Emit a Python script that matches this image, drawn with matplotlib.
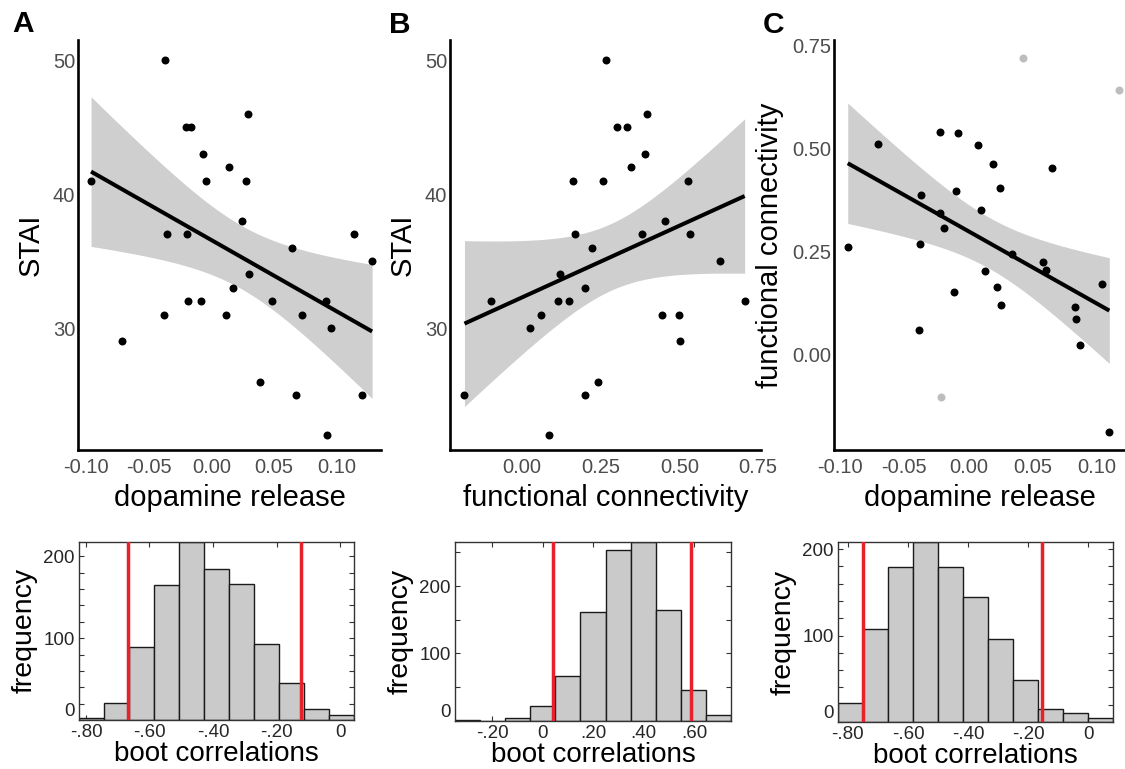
import numpy as np
import matplotlib
matplotlib.use("Agg")
import matplotlib.pyplot as plt
from matplotlib.ticker import FuncFormatter, FixedLocator

plt.rcParams['font.family'] = ['Liberation Sans', 'DejaVu Sans']

# ---------------- Panel A: dopamine release vs STAI ----------------
a_dopamine = [-0.096, -0.037, -0.0202, -0.0162, 0.0293, -0.0066, 0.0141, -0.0042,
              0.0277, 0.0245, -0.0354, -0.0194, 0.0644, 0.1139, 0.1283, 0.0301,
              0.0173, -0.0186, -0.0082, 0.0484, 0.0915, -0.0378, 0.0117, 0.0724,
              0.0955, -0.0713, 0.0389, 0.0676, 0.1203, 0.0923]
a_stai = [41, 50, 45, 45, 46, 43, 42, 41, 41, 38, 37, 37, 36, 37, 35, 34,
          33, 32, 32, 32, 32, 31, 31, 31, 30, 29, 26, 25, 25, 22]

# ---------------- Panel B: functional connectivity vs STAI ----------------
b_connectivity = [0.265, 0.397, 0.302, 0.334, 0.391, 0.345, 0.163, 0.258, 0.527,
                  0.454, 0.168, 0.380, 0.532, 0.223, 0.630, 0.120, 0.200, -0.098,
                  0.115, 0.150, 0.707, 0.059, 0.445, 0.499, 0.024, 0.502, 0.241,
                  -0.183, 0.201, 0.087]
b_stai = [50, 46, 45, 45, 43, 42, 41, 41, 41, 38, 37, 37, 37, 36, 35, 34, 33, 32,
          32, 32, 32, 31, 31, 31, 30, 29, 26, 25, 25, 22]

# ---------------- Panel C: dopamine release vs functional connectivity ----------------
c_dopamine = [-0.0707, -0.022, -0.008, 0.0075, 0.0192, 0.0651, 0.0242, -0.0096,
              -0.0368, 0.0096, -0.0191, -0.0222, -0.094, -0.038, 0.0335, 0.0576,
              0.0602, 0.1035, 0.0128, 0.0223, -0.0116, 0.0254, 0.0827, 0.0833,
              0.0864, -0.0386, 0.1094]
c_connectivity = [0.5105, 0.540, 0.5364, 0.5073, 0.4628, 0.4517, 0.4033, 0.3975,
                  0.3871, 0.3508, 0.3065, 0.3435, 0.262, 0.269, 0.2443, 0.2257,
                  0.2056, 0.171, 0.204, 0.1652, 0.1524, 0.1209, 0.1168, 0.0878,
                  0.0241, 0.0597, -0.1857]
c_outlier_dopamine = [0.0423, 0.1172, -0.0215]
c_outlier_connectivity = [0.7178, 0.6411, -0.101]

# ---------------- Bootstrap histograms ----------------
hist_a_counts = [3, 21, 89, 165, 218, 185, 166, 93, 45, 13, 6]
hist_a_range = (-0.822, 0.044)
hist_a_ci = (-0.667, -0.123)

hist_b_counts = [1, 0, 4, 22, 66, 162, 254, 266, 164, 45, 9]
hist_b_range = (-0.348, 0.747)
hist_b_ci = (0.04, 0.587)

hist_c_counts = [22, 108, 179, 208, 179, 145, 96, 49, 15, 10, 5]
hist_c_range = (-0.834, 0.084)
hist_c_ci = (-0.749, -0.154)

T95 = {25: 2.0595, 28: 2.0484}

W, H = 1125, 769
fig = plt.figure(figsize=(W / 100, H / 100), dpi=100)


def rect(l, t, r, b):
    return [l / W, 1 - b / H, (r - l) / W, (b - t) / H]


TICK_GRAY = '#4d4d4d'
BAND = '#cfcfcf'


def scatter_panel(ax, x, y, xlim, ylim, xticks, xticklabels, yticks, yticklabels,
                  xlabel, ylabel, ox=None, oy=None):
    x = np.asarray(x, float)
    y = np.asarray(y, float)
    n = len(x)
    slope, intercept = np.polyfit(x, y, 1)
    xs = np.linspace(x.min(), x.max(), 200)
    fit = intercept + slope * xs
    resid = y - (intercept + slope * x)
    s = np.sqrt(np.sum(resid ** 2) / (n - 2))
    sxx = np.sum((x - x.mean()) ** 2)
    se = s * np.sqrt(1.0 / n + (xs - x.mean()) ** 2 / sxx)
    t = T95[n - 2]
    ax.fill_between(xs, fit - t * se, fit + t * se, color=BAND, lw=0, zorder=1)
    ax.plot(xs, fit, color='black', lw=2.9, zorder=3, solid_capstyle='butt')
    if ox is not None:
        ax.scatter(ox, oy, s=33, color='#bdbdbd', lw=0, zorder=2)
    ax.scatter(x, y, s=33, color='black', lw=0, zorder=4)
    ax.set_xlim(*xlim)
    ax.set_ylim(*ylim)
    for sp in ['top', 'right']:
        ax.spines[sp].set_visible(False)
    for sp in ['left', 'bottom']:
        ax.spines[sp].set_linewidth(1.9)
        ax.spines[sp].set_color('black')
    ax.set_xticks(xticks)
    ax.set_xticklabels(xticklabels)
    ax.set_yticks(yticks)
    ax.set_yticklabels(yticklabels)
    ax.tick_params(axis='both', length=0, labelsize=14.5, colors=TICK_GRAY)
    ax.tick_params(axis='x', pad=6)
    ax.tick_params(axis='y', pad=2)
    ax.set_xlabel(xlabel, fontsize=21, labelpad=5)
    ax.set_ylabel(ylabel, fontsize=21, labelpad=6)
    ax.set_facecolor('none')


axA = fig.add_axes(rect(78, 40, 381, 450))
scatter_panel(axA, a_dopamine, a_stai, (-0.1064, 0.1354), (20.9, 51.5),
              [-0.10, -0.05, 0.0, 0.05, 0.10], ['-0.10', '-0.05', '0.00', '0.05', '0.10'],
              [30, 40, 50], ['30', '40', '50'], 'dopamine release', 'STAI')

axB = fig.add_axes(rect(450, 40, 761, 450))
scatter_panel(axB, b_connectivity, b_stai, (-0.229, 0.759), (20.9, 51.5),
              [0.0, 0.25, 0.5, 0.75], ['0.00', '0.25', '0.50', '0.75'],
              [30, 40, 50], ['30', '40', '50'], 'functional connectivity', 'STAI')

axC = fig.add_axes(rect(834, 40, 1125, 450))
scatter_panel(axC, c_dopamine, c_connectivity, (-0.1047, 0.1216), (-0.2299, 0.7621),
              [-0.10, -0.05, 0.0, 0.05, 0.10], ['-0.10', '-0.05', '0.00', '0.05', '0.10'],
              [0.0, 0.25, 0.5, 0.75], ['0.00', '0.25', '0.50', '0.75'],
              'dopamine release', 'functional connectivity',
              ox=c_outlier_dopamine, oy=c_outlier_connectivity)


def corr_fmt(v, pos):
    if abs(v) < 1e-9:
        return '0'
    s = f"{v:.2f}"
    return s.replace('0.', '.')


def hist_panel(ax, counts, rng, ci, xticks, ystep):
    counts = np.asarray(counts, float)
    nb = len(counts)
    edges = np.linspace(rng[0], rng[1], nb + 1)
    centers = (edges[:-1] + edges[1:]) / 2
    width = edges[1] - edges[0]
    ax.bar(centers, counts, width=width, color='#cacaca', edgecolor='#1a1a1a',
           lw=1.0, zorder=2)
    top = counts.max()
    for c in ci:
        ax.axvline(c, color='#e8202a', lw=2.5, zorder=3)
    ax.set_xlim(*rng)
    ax.set_ylim(0, top)
    for sp in ax.spines.values():
        sp.set_linewidth(1.0)
        sp.set_color('#333333')
    ax.xaxis.set_major_locator(FixedLocator(xticks))
    ax.xaxis.set_major_formatter(FuncFormatter(corr_fmt))
    yt = np.arange(0, top + 1, ystep)
    ax.set_yticks(yt)
    ax.set_yticklabels([str(int(v)) if v % 100 == 0 else '' for v in yt])
    ax.tick_params(axis='both', direction='in', length=3.5, width=0.8,
                   top=True, right=True, labelsize=13.5, colors='#333333',
                   labelcolor='#262626')
    ax.tick_params(axis='x', pad=3)
    ax.tick_params(axis='y', pad=3)
    ax.set_xlabel('boot correlations', fontsize=20, labelpad=0)
    ax.set_ylabel('frequency', fontsize=20.5, labelpad=4)


hA = fig.add_axes(rect(79, 541.7, 354, 720))
hist_panel(hA, hist_a_counts, hist_a_range, hist_a_ci, [-0.8, -0.6, -0.4, -0.2, 0.0], 20)

hB = fig.add_axes(rect(455, 541.7, 731, 720.7))
hist_panel(hB, hist_b_counts, hist_b_range, hist_b_ci, [-0.2, 0.0, 0.2, 0.4, 0.6], 50)

hC = fig.add_axes(rect(837.7, 542.3, 1113.3, 722))
hist_panel(hC, hist_c_counts, hist_c_range, hist_c_ci, [-0.8, -0.6, -0.4, -0.2, 0.0], 20)

for letter, px, py in [('A', 23, 24), ('B', 400, 25), ('C', 773, 25)]:
    fig.text(px / W, 1 - py / H, letter, fontsize=21.5, fontweight='bold',
             ha='center', va='center')

# the "0" count label sits just above the bottom edge, as in the reference
fig.canvas.draw()
for hax in (hA, hB, hC):
    for lab in hax.get_yticklabels():
        if lab.get_text() == '0':
            lab.set_va('bottom')

fig.savefig('out.png', dpi=100)
